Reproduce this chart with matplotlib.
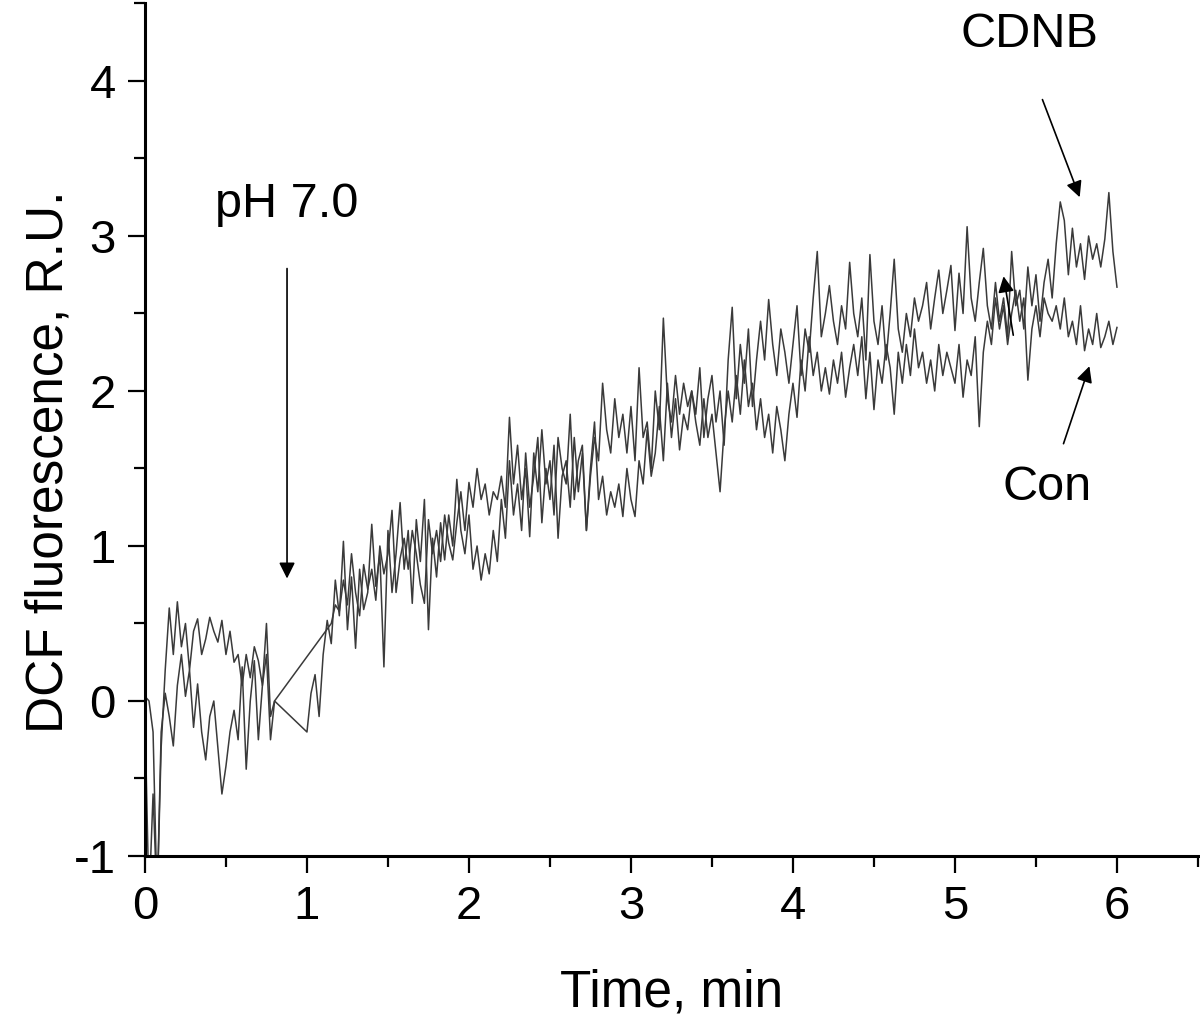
import matplotlib
matplotlib.use("Agg")
import matplotlib.pyplot as plt
import numpy as np
from matplotlib.ticker import MultipleLocator

plt.rcParams["font.family"] = ["Liberation Sans", "DejaVu Sans"]
plt.rcParams["axes.unicode_minus"] = False

# Before the pH switch (0 - 0.8 min)
con_pre = [0.03, 0.0, -0.2, -1.3, -0.3, 0.2, 0.6, 0.3, 0.64, 0.35, 0.5,
           0.2, 0.45, 0.53, 0.3, 0.4, 0.54, 0.45, 0.38, 0.52, 0.3, 0.45,
           0.25, 0.3, 0.1, 0.3, 0.15, 0.35, 0.26, 0.1, 0.5, -0.1, 0.0]
cdnb_pre = [-0.1, -1.3, -0.6, -1.3, -0.2, 0.05, -0.1, -0.29, 0.1, 0.3, 0.03,
            0.2, -0.17, 0.11, -0.2, -0.38, -0.1, 0.0, -0.3, -0.6, -0.42, -0.2,
            -0.06, -0.25, 0.22, -0.44, 0.0, 0.26, -0.25, 0.1, 0.3, -0.25, 0.0]

# After the pH switch: Con from 1.0 min, CDNB from 1.15 min, to 6.0 min
con_post = [
    -0.20, 0.05, 0.17, -0.10, 0.30, 0.52, 0.37, 0.78,
    0.55, 1.03, 0.46, 0.80, 0.34, 0.85, 0.59, 0.70,
    1.14, 0.74, 0.95, 0.22, 1.10, 0.70, 0.95, 1.28,
    0.85, 1.10, 0.63, 1.17, 0.90, 1.30, 0.46, 1.05,
    0.80, 1.15, 0.91, 1.20, 1.00, 1.43, 1.10, 0.95,
    1.20, 0.85, 1.00, 0.78, 0.95, 0.82, 1.10, 0.90,
    1.30, 1.05, 1.55, 1.20, 1.40, 1.10, 1.60, 1.25,
    1.45, 1.70, 1.15, 1.50, 1.30, 1.65, 1.05, 1.45,
    1.55, 1.25, 1.70, 1.35, 1.60, 1.10, 1.50, 1.80,
    1.30, 1.45, 1.20, 1.35, 1.25, 1.40, 1.19, 1.50,
    1.30, 1.19, 1.55, 1.40, 1.75, 1.45, 1.60, 1.90,
    1.55, 2.05, 1.70, 1.95, 1.62, 1.85, 1.75, 2.00,
    1.80, 1.65, 1.95, 1.70, 1.85, 1.60, 1.35, 1.75,
    2.00, 1.80, 2.10, 1.85, 2.20, 1.90, 2.05, 1.75,
    1.95, 1.70, 1.85, 1.60, 1.90, 1.75, 1.55, 1.85,
    2.05, 1.83, 2.20, 2.00, 2.35, 2.10, 2.25, 2.00,
    2.15, 1.98, 2.20, 2.05, 2.25, 1.96, 2.15, 2.30,
    2.10, 2.35, 1.95, 2.25, 1.88, 2.20, 2.05, 2.30,
    2.15, 1.85, 2.25, 2.05, 2.30, 2.10, 2.40, 2.15,
    2.25, 2.05, 2.20, 2.00, 2.30, 2.10, 2.25, 2.15,
    2.05, 2.30, 1.96, 2.20, 2.10, 2.35, 1.77, 2.25,
    2.45, 2.30, 2.60, 2.40, 2.55, 2.30, 2.50, 2.65,
    2.45, 2.60, 2.07, 2.40, 2.55, 2.35, 2.60, 2.50,
    2.45, 2.55, 2.40, 2.60, 2.35, 2.45, 2.30, 2.55,
    2.26, 2.40, 2.30, 2.50, 2.28, 2.35, 2.45, 2.30,
    2.41,
]
cdnb_post = [
    0.50, 0.62,
    0.58, 0.78, 0.62, 0.95, 0.70, 0.55, 0.88, 0.72,
    0.85, 0.65, 1.00, 0.82, 0.95, 1.23, 0.70, 0.92,
    1.05, 0.85, 1.10, 0.95, 0.75, 0.63, 1.17, 0.95,
    1.10, 0.90, 1.20, 1.02, 0.91, 1.15, 1.35, 1.10,
    1.41, 1.25, 1.50, 1.30, 1.40, 1.20, 1.35, 1.30,
    1.45, 1.25, 1.83, 1.40, 1.65, 1.30, 1.50, 1.06,
    1.60, 1.35, 1.75, 1.40, 1.55, 1.20, 1.70, 1.50,
    1.40, 1.85, 1.30, 1.55, 1.65, 1.10, 1.45, 1.70,
    1.55, 2.05, 1.75, 1.60, 1.95, 1.70, 1.85, 1.60,
    1.90, 1.55, 2.15, 1.70, 1.80, 1.50, 2.00, 1.75,
    2.47, 1.95, 1.80, 2.10, 1.85, 2.05, 1.90, 2.00,
    1.85, 2.15, 1.70, 1.95, 2.10, 1.80, 2.00, 1.65,
    2.20, 2.54, 1.95, 2.30, 2.05, 2.40, 1.90, 2.20,
    2.45, 2.20, 2.59, 2.30, 2.10, 2.40, 2.25, 2.05,
    2.30, 2.55, 2.10, 2.40, 2.25, 2.60, 2.90, 2.35,
    2.50, 2.68, 2.45, 2.30, 2.55, 2.40, 2.83, 2.50,
    2.35, 2.60, 2.20, 2.88, 2.45, 2.30, 2.55, 2.20,
    2.50, 2.85, 2.40, 2.25, 2.50, 2.35, 2.60, 2.45,
    2.55, 2.70, 2.40, 2.60, 2.78, 2.50, 2.65, 2.81,
    2.39, 2.76, 2.50, 3.06, 2.60, 2.45, 2.70, 2.92,
    2.55, 2.40, 2.70, 2.45, 2.60, 2.35, 2.90, 2.55,
    2.65, 2.40, 2.80, 2.55, 2.75, 2.45, 2.70, 2.85,
    2.60, 2.95, 3.22, 3.10, 2.75, 3.05, 2.80, 2.95,
    2.72, 3.00, 2.85, 2.95, 2.80, 2.98, 3.28, 2.90,
    2.67,
]

# sample times for each piece
t_pre_con = np.linspace(0.0, 0.8, len(con_pre))
t_pre_cdnb = np.linspace(0.0, 0.8, len(cdnb_pre))
t_post_con = np.linspace(1.0, 6.0, len(con_post))
t_post_cdnb = np.linspace(1.15, 6.0, len(cdnb_post))

t_con = np.concatenate([t_pre_con, t_post_con])
y_con = np.concatenate([con_pre, con_post])
t_cdnb = np.concatenate([t_pre_cdnb, t_post_cdnb])
y_cdnb = np.concatenate([cdnb_pre, cdnb_post])

fig = plt.figure(figsize=(12, 10.26), dpi=100)
ax = fig.add_axes([0.1208, 0.1657, 0.8775, 0.8309])

line_color = "#3a3a3a"
ax.plot(t_con, y_con, color=line_color, lw=1.1)
ax.plot(t_cdnb, y_cdnb, color=line_color, lw=1.1)

ax.set_xlim(0, 6.5)
ax.set_ylim(-1, 4.5)

# axis styling: only left and bottom spines
for side in ["top", "right"]:
    ax.spines[side].set_visible(False)
for side in ["left", "bottom"]:
    ax.spines[side].set_linewidth(2.2)

ax.xaxis.set_major_locator(MultipleLocator(1))
ax.xaxis.set_minor_locator(MultipleLocator(0.5))
ax.yaxis.set_major_locator(MultipleLocator(1))
ax.yaxis.set_minor_locator(MultipleLocator(0.5))
ax.tick_params(which="major", direction="out", length=12, width=1.6,
               labelsize=34)
ax.tick_params(which="minor", direction="out", length=8, width=1.6)
ax.tick_params(axis="x", pad=9)
ax.tick_params(axis="y", pad=9)

ax.set_xlabel("Time, min", fontsize=37)
ax.set_ylabel("DCF fluorescence, R.U.", fontsize=37)
ax.xaxis.set_label_coords(0.5, -0.132)
ax.yaxis.set_label_coords(-0.068, 0.462)

# annotations
arrow_kw = dict(arrowstyle="-|>", color="black", lw=1.2, mutation_scale=24,
                shrinkA=0, shrinkB=0)
ax.annotate("", xy=(0.877, 0.79), xytext=(0.877, 2.79), arrowprops=arrow_kw)
ax.text(0.877, 3.2, "pH 7.0", fontsize=35, ha="center", va="center")

ax.annotate("", xy=(5.77, 3.25), xytext=(5.54, 3.88), arrowprops=arrow_kw)
ax.text(5.46, 4.3, "CDNB", fontsize=35, ha="center", va="center")

ax.annotate("", xy=(5.83, 2.16), xytext=(5.67, 1.66), arrowprops=arrow_kw)
ax.text(5.57, 1.38, "Con", fontsize=35, ha="center", va="center")

ax.annotate("", xy=(5.30, 2.74), xytext=(5.36, 2.36), arrowprops=arrow_kw)

fig.savefig("out.png", dpi=100)
